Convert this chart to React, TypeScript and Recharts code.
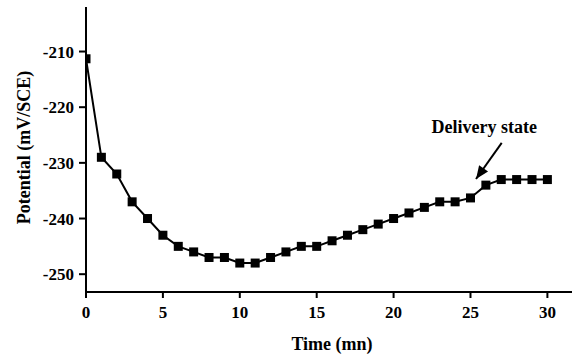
import { LineChart, Line, XAxis, YAxis, ReferenceLine, ReferenceDot } from "recharts"

// time (mn) and potential (mV/SCE)
const times = [0, 1, 2, 3, 4, 5, 6, 7, 8, 9, 10, 11, 12, 13, 14, 15, 16, 17, 18, 19, 20, 21, 22, 23, 24, 25, 26, 27, 28, 29, 30]
const potentials = [
  -211.3, -229, -232, -237, -240, -243, -245, -246, -247, -247, -248, -248, -247, -246, -245, -245,
  -244, -243, -242, -241, -240, -239, -238, -237, -237, -236.3, -234, -233, -233, -233, -233
]

const xTicks = [0, 5, 10, 15, 20, 25, 30]
const yTicks = [-250, -240, -230, -220, -210]

// annotation: text anchor and arrow (start -> tip)
const noteText = "Delivery state"
const notePos = { x: 25.9, y: -224.6 }
const arrowStart = { x: 27.03, y: -226.4 }
const arrowTip = { x: 25.36, y: -232.9 }

const data = times.map((t, i) => ({ t, v: potentials[i] }))

const FONT = "'Liberation Serif', 'Times New Roman', serif"

const SquareDot = (props: any) => {
  const { cx, cy, index } = props
  if (cx == null || cy == null) return null
  return <rect key={`dot-${index}`} x={cx - 4.5} y={cy - 4.5} width={9} height={9} fill="#000" />
}

// filled arrowhead pointing down-left
const ArrowHead = (props: any) => {
  const { cx, cy } = props
  const ang = Math.atan2(36, -25.7)
  const len = 13
  const half = 5.5
  const ux = Math.cos(ang)
  const uy = Math.sin(ang)
  const bx = cx - ux * len
  const by = cy - uy * len
  const p1 = `${cx},${cy}`
  const p2 = `${bx - uy * half},${by + ux * half}`
  const p3 = `${bx + uy * half},${by - ux * half}`
  return <polygon points={`${p1} ${p2} ${p3}`} fill="#000" />
}

const NoteLabel = (props: any) => {
  const { cx, cy } = props
  return (
    <text x={cx} y={cy} textAnchor="middle" fontFamily={FONT} fontWeight="bold" fontSize={18} fill="#000">
      {noteText}
    </text>
  )
}

export default function App() {
  return (
    <div style={{ position: "absolute", left: 0, top: 0, width: 572, height: 355, background: "#fff" }}>
      <LineChart width={572} height={355} data={data} margin={{ top: 7, right: 0, bottom: 0, left: 0 }}>
        <XAxis
          dataKey="t"
          type="number"
          domain={[0, 31.6]}
          ticks={xTicks}
          allowDataOverflow
          height={63}
          axisLine={{ stroke: "#000", strokeWidth: 2 }}
          tickLine={{ stroke: "#000", strokeWidth: 2 }}
          tickSize={6}
          tickMargin={8}
          tick={{ fill: "#000", fontFamily: FONT, fontWeight: "bold", fontSize: 17 }}
          label={{
            value: "Time (mn)",
            position: "insideBottom",
            offset: 5,
            dx: 3,
            style: { fill: "#000", fontFamily: FONT, fontWeight: "bold", fontSize: 18 }
          }}
        />
        <YAxis
          type="number"
          domain={[-253.2, -202]}
          ticks={yTicks}
          allowDataOverflow
          width={86}
          axisLine={{ stroke: "#000", strokeWidth: 2 }}
          tickLine={{ stroke: "#000", strokeWidth: 2 }}
          tickSize={7}
          tickMargin={5}
          tick={{ fill: "#000", fontFamily: FONT, fontWeight: "bold", fontSize: 17 }}
          label={{
            value: "Potential (mV/SCE)",
            angle: -90,
            position: "insideLeft",
            offset: 24,
            dy: -2,
            style: { textAnchor: "middle", fill: "#000", fontFamily: FONT, fontWeight: "bold", fontSize: 18 }
          }}
        />
        <Line
          dataKey="v"
          stroke="#000"
          strokeWidth={2}
          dot={SquareDot}
          activeDot={false}
          isAnimationActive={false}
        />
        <ReferenceLine
          segment={[arrowStart, arrowTip]}
          stroke="#000"
          strokeWidth={2}
        />
        <ReferenceDot x={arrowTip.x} y={arrowTip.y} r={0} shape={ArrowHead} />
        <ReferenceDot x={notePos.x} y={notePos.y} r={0} shape={NoteLabel} />
      </LineChart>
    </div>
  )
}
